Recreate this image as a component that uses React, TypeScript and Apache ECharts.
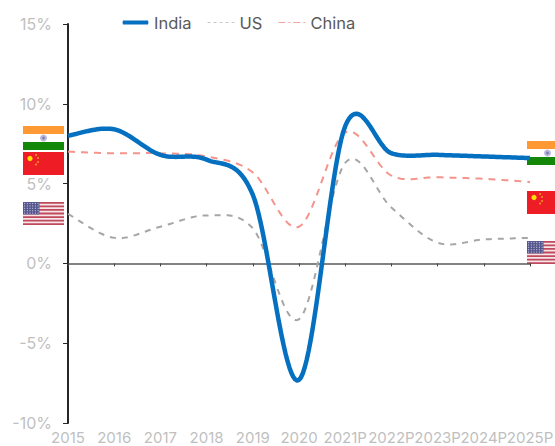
import React, { useEffect, useRef } from "react";
import * as echarts from "echarts";

const categories = ["2015", "2016", "2017", "2018", "2019", "2020", "2021P", "2022P", "2023P", "2024P", "2025P"];
const india = [8.0, 8.4, 6.8, 6.5, 4.3, -7.3, 8.6, 6.9, 6.8, 6.7, 6.6];
const us = [3.1, 1.6, 2.3, 3.0, 2.2, -3.5, 6.3, 3.5, 1.3, 1.5, 1.6];
const china = [7.0, 6.9, 6.9, 6.7, 5.7, 2.3, 8.2, 5.5, 5.4, 5.3, 5.1];

function indiaFlag(x: number, w: number, top: number) {
  return [
    { type: "rect", shape: { x, y: top, width: w, height: 8 }, style: { fill: "#ff9933" }, silent: true },
    { type: "circle", shape: { cx: x + 20.5, cy: top + 12, r: 3.5 }, style: { fill: "#b9b9dc" }, silent: true },
    { type: "circle", shape: { cx: x + 20.5, cy: top + 12, r: 1.4 }, style: { fill: "#7d7db8" }, silent: true },
    { type: "rect", shape: { x, y: top + 16, width: w, height: 8 }, style: { fill: "#138808" }, silent: true },
  ];
}
function chinaFlag(x: number, y: number, w: number) {
  const out: any[] = [{ type: "rect", shape: { x, y, width: w, height: 23 }, style: { fill: "#ee1c25" }, silent: true }];
  out.push({ type: "circle", shape: { cx: x + 7, cy: y + 6.5, r: 2.6 }, style: { fill: "#ffe000" }, silent: true });
  [[13, 3], [15, 6], [15, 10], [13, 12.5]].forEach(([dx, dy]) =>
    out.push({ type: "circle", shape: { cx: x + dx, cy: y + dy, r: 0.9 }, style: { fill: "#f5a623" }, silent: true })
  );
  return out;
}
function usFlag(x: number, y: number, w: number) {
  const out: any[] = [{ type: "rect", shape: { x, y, width: w, height: 23 }, style: { fill: "#f7e6e8" }, silent: true }];
  for (let i = 0; i < 7; i++) {
    out.push({ type: "rect", shape: { x, y: y + i * 3.54, width: w, height: 1.77 }, style: { fill: "#bf4a5e" }, silent: true });
  }
  out.push({ type: "rect", shape: { x, y, width: 16.5, height: 12.4 }, style: { fill: "#56568e" }, silent: true });
  for (let r = 0; r < 5; r++) {
    for (let c = 0; c < 6; c++) {
      out.push({ type: "circle", shape: { cx: x + 1.6 + c * 2.7, cy: y + 1.5 + r * 2.4, r: 0.55 }, style: { fill: "#c9c9e0" }, silent: true });
    }
  }
  return out;
}

// Excel-style smooth line through the values, placed by the chart's own scales.
function curve(values: number[], color: string, width: number, dash: number[] | "solid") {
  return (params: any, api: any) => {
    if (params.dataIndex !== 0) return null;
    const p = values.map((v, i) => api.coord([i, v]));
    const points: number[][] = [];
    const steps = 24;
    for (let i = 0; i < p.length - 1; i++) {
      const a = p[i];
      const b = p[i + 1];
      const prev = p[Math.max(i - 1, 0)];
      const next = p[Math.min(i + 2, p.length - 1)];
      const m0 = [(b[0] - prev[0]) / 2, (b[1] - prev[1]) / 2];
      const m1 = [(next[0] - a[0]) / 2, (next[1] - a[1]) / 2];
      for (let s = 0; s <= steps; s++) {
        const t = s / steps;
        const h00 = 2 * t * t * t - 3 * t * t + 1;
        const h10 = t * t * t - 2 * t * t + t;
        const h01 = -2 * t * t * t + 3 * t * t;
        const h11 = t * t * t - t * t;
        points.push([
          h00 * a[0] + h10 * m0[0] + h01 * b[0] + h11 * m1[0],
          h00 * a[1] + h10 * m0[1] + h01 * b[1] + h11 * m1[1],
        ]);
      }
    }
    return {
      type: "polyline",
      shape: { points },
      style: { fill: "none", stroke: color, lineWidth: width, lineDash: dash === "solid" ? undefined : dash, lineJoin: "round" },
      silent: true,
    };
  };
}

const pts = (v: number[]) => v.map((y, i) => [i, y]);
const bound = "M0 0H0.01V0.01H0Z M27 14H27.01V14.01H27Z ";

export default function App() {
  const ref = useRef<HTMLDivElement>(null);
  useEffect(() => {
    const chart = echarts.init(ref.current!, undefined, { renderer: "svg" });
    const font = "Inter";
    chart.setOption({
      animation: false,
      backgroundColor: "#ffffff",
      grid: { left: 68, right: 25, top: 24, bottom: 23, outerBoundsMode: "none" },
      legend: {
        top: 14,
        left: 122,
        padding: 0,
        itemWidth: 27,
        itemHeight: 14,
        itemGap: 16,
        textStyle: { color: "#595959", fontSize: 16.5, fontFamily: font },
        data: [
          { name: "India", icon: "path://" + bound + "M1 5H26Q27 7 26 9H1Q0 7 1 5Z", itemStyle: { color: "#0570c0", opacity: 1 } },
          { name: "US", icon: "path://" + bound + "M0 6.4H3V7.6H0Z M6 6.4H9V7.6H6Z M12 6.4H15V7.6H12Z M18 6.4H21V7.6H18Z M24 6.4H27V7.6H24Z", itemStyle: { color: "#c9c9c9", opacity: 1 } },
          { name: "China", icon: "path://" + bound + "M0 6.4H7V7.6H0Z M10 6.4H12V7.6H10Z M15 6.4H22V7.6H15Z M25 6.4H27V7.6H25Z", itemStyle: { color: "#f4a5a0", opacity: 1 } },
        ],
      },
      xAxis: [
        {
          type: "category",
          boundaryGap: false,
          data: categories,
          axisLine: { onZero: true, lineStyle: { color: "#595959", width: 1.5 } },
          axisTick: { show: true, alignWithLabel: true, length: 3, lineStyle: { color: "#404040" } },
          axisLabel: { show: false },
        },
        {
          type: "category",
          position: "bottom",
          boundaryGap: false,
          data: categories,
          axisLine: { show: false, onZero: false },
          axisTick: { show: false },
          axisLabel: { color: "#bfbfbf", fontSize: 15, fontFamily: font, margin: 7, interval: 0, hideOverlap: false },
        },
      ],
      yAxis: {
        type: "value",
        min: -10,
        max: 15,
        interval: 5,
        splitLine: { show: false },
        axisLine: { show: true, lineStyle: { color: "#262626", width: 2 } },
        axisTick: { show: true, length: 5, lineStyle: { color: "#262626", width: 1 } },
        axisLabel: { color: "#bfbfbf", fontSize: 16, fontFamily: font, margin: 16, formatter: "{value}%" },
      },
      series: [
        { name: "India", type: "custom", data: pts(india), encode: { x: 0, y: 1 }, clip: false, renderItem: curve(india, "#0570c0", 4.5, "solid"), itemStyle: { color: "#0570c0" }, z: 4 },
        { name: "US", type: "custom", data: pts(us), encode: { x: 0, y: 1 }, clip: false, renderItem: curve(us, "#a6a6a6", 2, [6, 6]), itemStyle: { color: "#a6a6a6" }, z: 3 },
        { name: "China", type: "custom", data: pts(china), encode: { x: 0, y: 1 }, clip: false, renderItem: curve(china, "#f4948c", 2, [7, 6]), itemStyle: { color: "#f4948c" }, z: 3 },
      ],
      graphic: [
        ...indiaFlag(23, 41, 126),
        ...chinaFlag(23, 152, 41),
        ...usFlag(23, 202, 41),
        ...indiaFlag(527, 41, 141),
        ...chinaFlag(527, 191, 41),
        ...usFlag(527, 241, 41),
      ],
    });
    return () => chart.dispose();
  }, []);
  return <div ref={ref} style={{ position: "fixed", left: 0, top: 0, width: 555, height: 446 }} />;
}
